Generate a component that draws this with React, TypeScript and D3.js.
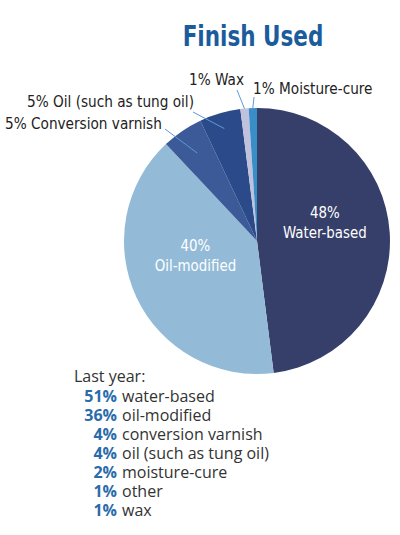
import React from "react";
import * as d3 from "d3";

// this year's shares, clockwise from 12 o'clock
const categories = [
  "Water-based",
  "Oil-modified",
  "Conversion varnish",
  "Oil (such as tung oil)",
  "Wax",
  "Moisture-cure",
];
const shares = [48, 40, 5, 5, 1, 1];
const sliceColors = ["#363f6a", "#93bbd8", "#3c5a98", "#2a4a89", "#c0c1dc", "#3a8ec8"];

const lastYearLabels = [
  "water-based",
  "oil-modified",
  "conversion varnish",
  "oil (such as tung oil)",
  "moisture-cure",
  "other",
  "wax",
];
const lastYearValues = [51, 36, 4, 4, 2, 1, 1];

const W = 400,
  H = 535;
const cx = 257,
  cy = 241,
  r = 133;

const condensed = "'DejaVu Sans', sans-serif";
// DejaVu condensed, squeezed a bit more to get the narrow look of the original
const narrow = (x: number, y: number, k = 0.92) => `translate(${x},${y}) scale(${k},1)`;

export default function App() {
  const pie = d3
    .pie<number>()
    .sort(null)
    .value((d) => d);
  const arcs = pie(shares);
  const arc = d3.arc<d3.PieArcDatum<number>>().innerRadius(0).outerRadius(r);
  const labelArc = d3.arc<d3.PieArcDatum<number>>().innerRadius(136).outerRadius(136);

  // outside labels: text position + where the leader line starts
  const outside = [
    { i: 2, tx: 5, ty: 129, lx: 165, ly: 129, rr: 0.8 },
    { i: 3, tx: 27, ty: 107, lx: 193, ly: 112, rr: 0.88 },
    { i: 4, tx: 189, ty: 85, lx: 237, ly: 90, rr: 1.0 },
    { i: 5, tx: 253, ty: 94, lx: 254, ly: 97, rr: 1.0 },
  ];

  const rowY = d3
    .scaleBand<number>()
    .domain(d3.range(lastYearValues.length))
    .range([387, 520]);

  return (
    <svg width={W} height={H} style={{ position: "absolute", left: 0, top: 0, background: "#fff" }}>
      <text
        transform={narrow(253, 46, 0.84)}
        textAnchor="middle"
        fontFamily={condensed}
        fontStretch="condensed"
        fontWeight="bold"
        fontSize={28.5}
        fill="#1b5c9c"
      >
        Finish Used
      </text>

      <g transform={`translate(${cx},${cy})`}>
        {arcs.map((a, i) => (
          <path key={i} d={arc(a) ?? ""} fill={sliceColors[i]} />
        ))}
        {[0, 1].map((i) => {
          const [x, y] = labelArc.centroid(arcs[i]).map((v) => v / 2);
          return (
            <text
              key={i}
              transform={narrow(x, y - 19, 0.93)}
              textAnchor="middle"
              fill="#fff"
              fontFamily={condensed}
              fontStretch="condensed"
              fontSize={16}
            >
              <tspan x={0}>{shares[i]}%</tspan>
              <tspan x={0} dy={20.5}>
                {categories[i]}
              </tspan>
            </text>
          );
        })}
      </g>

      {outside.map((o) => {
        const mid = (arcs[o.i].startAngle + arcs[o.i].endAngle) / 2;
        const ex = cx + Math.sin(mid) * r * o.rr;
        const ey = cy - Math.cos(mid) * r * o.rr;
        return (
          <g key={o.i}>
            <line x1={o.lx} y1={o.ly} x2={ex} y2={ey} stroke="#5b9bd5" strokeWidth={1} />
            <text
              transform={narrow(o.tx, o.ty)}
              fontFamily={condensed}
              fontStretch="condensed"
              fontSize={16.5}
              fill="#222"
            >
              {shares[o.i]}% {categories[o.i]}
            </text>
          </g>
        );
      })}

      <text x={74} y={382} fontFamily="'Open Sans', sans-serif" fontSize={16} fill="#333">
        Last year:
      </text>
      {lastYearValues.map((v, i) => {
        const y = (rowY(i) ?? 0) + rowY.bandwidth() / 2 + 5;
        return (
          <g key={i} fontFamily="'Open Sans', sans-serif" fontSize={16}>
            <text x={117} y={y} textAnchor="end" fontWeight="bold" fill="#2a6cab">
              {v}%
            </text>
            <text x={122} y={y} fill="#333">
              {lastYearLabels[i]}
            </text>
          </g>
        );
      })}
    </svg>
  );
}
